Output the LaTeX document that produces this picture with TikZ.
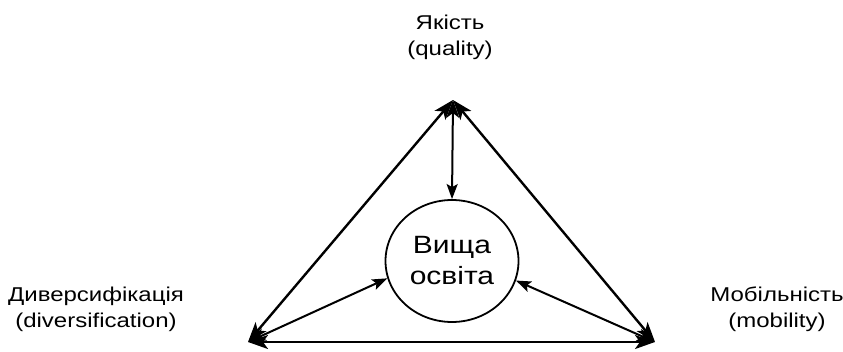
\documentclass[tikz,border=0pt]{standalone}
\usepackage{fontspec}
\setmainfont{Liberation Sans}
\newfontfamily\widesans[FakeStretch=1.2]{Liberation Sans}
\usetikzlibrary{arrows.meta,shapes.geometric}

\begin{document}
\begin{tikzpicture}[x=1pt,y=1pt,
  edge/.style={line width=2.4pt, {Stealth[length=20pt,width=14pt,inset=5pt]}-{Stealth[length=20pt,width=14pt,inset=5pt]}},
  link/.style={line width=2pt, {Stealth[length=18pt,width=13pt,inset=5pt]}-{Stealth[length=15pt,width=11pt,inset=3pt]}},
  lbl/.style={align=center, font=\widesans\fontsize{20}{26}\selectfont}]
\useasboundingbox (0,0) rectangle (843,351);
% corners of the triangle
\coordinate (top) at (453,251);
\coordinate (left) at (248,9);
\coordinate (right) at (655,9);
% centre
\node[draw, ellipse, line width=1.8pt, minimum width=133, minimum height=122,
  align=center, font=\widesans\fontsize{25}{31}\selectfont] (core) at (452,90) {Вища\\освіта};
% labels
\node[lbl] (quality) at (450,313.6) {Якість\\(quality)};
\node[lbl] (divers) at (96,41.6) {Диверсифікація\\(diversification)};
\node[lbl] (mobil) at (777,41.6) {Мобільність\\(mobility)};
% triangle
\draw[edge] (left) -- (top);
\draw[edge] (top) -- (right);
\draw[edge] (left) -- (right);
% to the centre
\draw[link] (top) -- (core.north);
\draw[link] (left) -- (core.195);
\draw[link] (right) -- (core.-17);
\end{tikzpicture}
\end{document}
